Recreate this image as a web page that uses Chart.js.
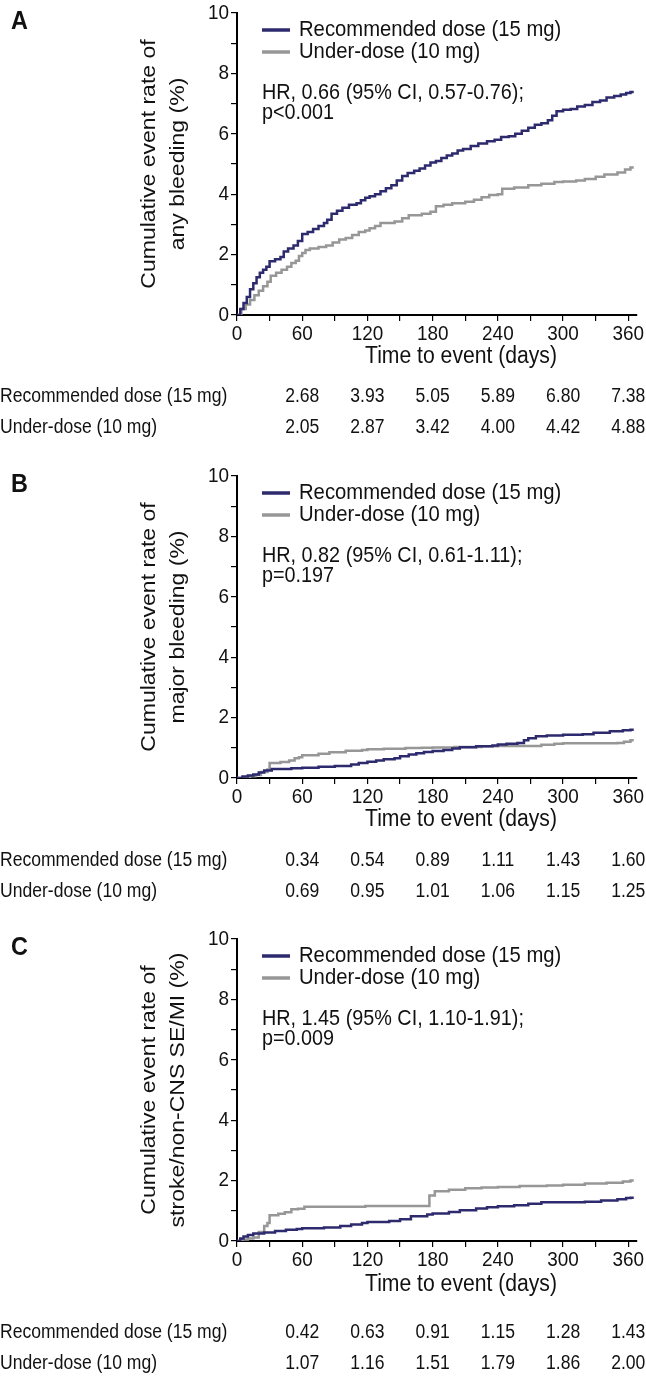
<!DOCTYPE html>
<html>
<head>
<meta charset="utf-8">
<script src="https://cdn.jsdelivr.net/npm/chart.js@4.4.1/dist/chart.umd.min.js"></script>
<style>
  body { margin: 0; background: #fff; width: 646px; height: 1377px; overflow: hidden; position: relative; }
  canvas { position: absolute; left: 0; }
</style>
</head>
<body>
<canvas id="panelA" width="646" height="463" style="top:0px"></canvas>
<canvas id="panelB" width="646" height="463" style="top:463px"></canvas>
<canvas id="panelC" width="646" height="463" style="top:926px"></canvas>
<script>
// series names
const seriesNames = ['Recommended dose (15 mg)', 'Under-dose (10 mg)'];
const tableDays = [60, 120, 180, 240, 300, 360];
const xTickDays = [0, 30, 60, 90, 120, 150, 180, 210, 240, 270, 300, 330, 360];

// A: any bleeding, [day, cumulative %]
const anyBleedRec = [[0,0],[3,0.2],[6,0.4],[9,0.6],[12,0.85],[15,1.05],[18,1.25],[21,1.4],[24,1.5],[27,1.6],[30,1.78],[35,1.85],[40,1.92],[43,2.1],[47,2.2],[52,2.3],[56,2.45],[60,2.68],[65,2.75],[70,2.85],[75,2.95],[80,3.05],[83,3.15],[87,3.35],[92,3.45],[97,3.55],[103,3.65],[110,3.7],[114,3.8],[118,3.88],[122,3.93],[127,4.0],[132,4.1],[137,4.2],[142,4.3],[147,4.45],[152,4.6],[157,4.7],[163,4.78],[168,4.85],[173,4.95],[178,5.05],[183,5.1],[188,5.2],[193,5.28],[198,5.35],[203,5.45],[208,5.5],[215,5.6],[222,5.68],[230,5.75],[237,5.8],[243,5.89],[250,5.92],[256,6.0],[262,6.1],[268,6.2],[274,6.3],[280,6.35],[286,6.45],[290,6.6],[294,6.75],[300,6.8],[307,6.82],[313,6.9],[320,6.95],[327,7.05],[334,7.1],[340,7.2],[347,7.25],[353,7.3],[358,7.35],[362,7.38],[365,7.38]];
const anyBleedUnder = [[0,0],[4,0.2],[8,0.35],[12,0.5],[16,0.65],[20,0.8],[24,0.95],[28,1.1],[31,1.3],[36,1.4],[41,1.5],[46,1.6],[50,1.72],[54,1.8],[57,1.95],[60,2.05],[63,2.15],[67,2.2],[75,2.25],[82,2.3],[88,2.4],[94,2.5],[100,2.55],[106,2.65],[112,2.75],[118,2.8],[122,2.87],[127,2.95],[132,3.05],[145,3.1],[152,3.2],[158,3.3],[170,3.35],[178,3.42],[183,3.6],[190,3.65],[198,3.7],[210,3.75],[218,3.82],[225,3.9],[232,3.97],[240,4.0],[244,4.18],[255,4.22],[268,4.3],[280,4.35],[292,4.4],[300,4.42],[312,4.45],[320,4.5],[330,4.58],[338,4.65],[350,4.72],[357,4.82],[362,4.88],[365,4.88]];
const anyBleedRecTable = [2.68, 3.93, 5.05, 5.89, 6.80, 7.38];
const anyBleedUnderTable = [2.05, 2.87, 3.42, 4.00, 4.42, 4.88];

// B: major bleeding
const majorBleedRec = [[0,0],[5,0.05],[10,0.08],[15,0.12],[20,0.18],[25,0.25],[32,0.3],[50,0.32],[60,0.34],[75,0.37],[90,0.4],[105,0.45],[112,0.5],[120,0.54],[128,0.58],[135,0.62],[145,0.65],[150,0.72],[158,0.78],[165,0.82],[172,0.86],[180,0.89],[190,0.93],[198,0.98],[205,1.02],[220,1.05],[235,1.08],[240,1.11],[248,1.13],[258,1.16],[264,1.25],[268,1.32],[275,1.38],[285,1.41],[300,1.43],[318,1.45],[328,1.5],[343,1.55],[355,1.58],[362,1.6],[365,1.6]];
const majorBleedUnder = [[0,0],[8,0.03],[12,0.06],[17,0.1],[22,0.2],[28,0.28],[30,0.5],[40,0.53],[48,0.58],[53,0.65],[57,0.69],[60,0.75],[75,0.8],[85,0.85],[100,0.9],[115,0.93],[120,0.95],[135,0.97],[155,0.99],[170,1.0],[180,1.01],[200,1.03],[225,1.05],[240,1.06],[265,1.06],[280,1.1],[292,1.13],[300,1.15],[350,1.16],[356,1.2],[362,1.25],[365,1.25]];
const majorBleedRecTable = [0.34, 0.54, 0.89, 1.11, 1.43, 1.60];
const majorBleedUnderTable = [0.69, 0.95, 1.01, 1.06, 1.15, 1.25];

// C: stroke/non-CNS SE/MI
const strokeRec = [[0,0],[3,0.08],[6,0.15],[10,0.2],[15,0.25],[25,0.28],[35,0.33],[45,0.37],[55,0.4],[60,0.42],[80,0.45],[95,0.5],[105,0.55],[115,0.6],[120,0.63],[140,0.66],[150,0.72],[160,0.82],[175,0.88],[180,0.91],[195,0.96],[205,1.02],[220,1.08],[230,1.12],[240,1.15],[255,1.18],[268,1.23],[280,1.28],[300,1.28],[320,1.3],[335,1.34],[350,1.38],[358,1.42],[362,1.43],[365,1.43]];
const strokeUnder = [[0,0],[5,0.05],[10,0.08],[15,0.12],[20,0.3],[25,0.5],[28,0.6],[30,0.85],[38,0.9],[44,0.95],[50,1.05],[56,1.07],[62,1.13],[118,1.16],[177,1.51],[182,1.65],[195,1.7],[210,1.75],[225,1.77],[240,1.79],[260,1.82],[285,1.84],[300,1.86],[320,1.9],[340,1.93],[355,1.97],[362,2.0],[365,2.0]];
const strokeRecTable = [0.42, 0.63, 0.91, 1.15, 1.28, 1.43];
const strokeUnderTable = [1.07, 1.16, 1.51, 1.79, 1.86, 2.00];

const NAVY = '#2d2a6e';
const GRAY = '#979797';
const FONT = '"Liberation Sans", Arial, sans-serif';
const SQUEEZE = 0.9; // the source figure is narrowed a bit

// text narrowed horizontally like the source
function narrowText(ctx, text, x, y, align) {
  ctx.save();
  ctx.translate(x, y);
  ctx.scale(SQUEEZE, 1);
  ctx.textAlign = align;
  ctx.fillText(text, 0, 0);
  ctx.restore();
}

// draws tick labels, panel letter, axis titles, legend, HR note and the table
const panelText = {
  id: 'panelText',
  afterDraw(chart, args, o) {
    const { ctx, chartArea: a, scales: { x, y } } = chart;
    ctx.save();
    ctx.fillStyle = '#111';
    ctx.textBaseline = 'middle';

    ctx.font = '21px ' + FONT;
    y.ticks.forEach(t => {
      if (t.value % 2 === 0) narrowText(ctx, String(t.value), 229, y.getPixelForValue(t.value), 'right');
    });
    x.ticks.forEach(t => {
      if (t.value % 60 === 0) narrowText(ctx, String(t.value), x.getPixelForValue(t.value), a.bottom + 19, 'center');
    });

    ctx.font = 'bold 26px ' + FONT;
    narrowText(ctx, o.letter, 11, 22, 'left');

    // y title, rotated (the narrowing is across the text there)
    ctx.font = '23px ' + FONT;
    ctx.textAlign = 'center';
    ctx.save();
    ctx.translate(0, (a.top + a.bottom) / 2);
    ctx.rotate(-Math.PI / 2);
    ctx.scale(1, SQUEEZE);
    o.yTitle.forEach((t, i) => ctx.fillText(t, 0, (149 + i * 29) / SQUEEZE));
    ctx.restore();

    ctx.font = '23.5px ' + FONT;
    narrowText(ctx, 'Time to event (days)', 461, a.bottom + o.titleOffset, 'center');

    // legend
    ctx.font = '22.5px ' + FONT;
    chart.data.datasets.forEach((d, i) => {
      const ly = a.top + 17 + i * 22;
      ctx.strokeStyle = d.borderColor;
      ctx.lineWidth = 3.5;
      ctx.beginPath();
      ctx.moveTo(262, ly);
      ctx.lineTo(290, ly);
      ctx.stroke();
      narrowText(ctx, d.label, 299, ly, 'left');
    });
    ctx.font = '22px ' + FONT;
    o.hr.forEach((t, i) => narrowText(ctx, t, 262, a.top + 80 + i * 20, 'left'));

    // table
    ctx.font = '19.5px ' + FONT;
    o.rows.forEach((r, i) => {
      const ty = o.tableY + i * 31;
      narrowText(ctx, r.label, 0, ty, 'left');
      r.values.forEach((v, j) => narrowText(ctx, v.toFixed(2), x.getPixelForValue(tableDays[j]), ty, 'center'));
    });
    ctx.restore();
  }
};

function makePanel(id, letter, yTitle, hr, rec, under, recTable, underTable, tableY, titleOffset) {
  const toXY = pts => pts.map(p => ({ x: p[0], y: p[1] }));
  new Chart(document.getElementById(id), {
    type: 'line',
    data: {
      datasets: [
        { label: seriesNames[0], data: toXY(rec), borderColor: NAVY, borderWidth: 2.5, pointRadius: 0, stepped: true, fill: false },
        { label: seriesNames[1], data: toXY(under), borderColor: GRAY, borderWidth: 2.5, pointRadius: 0, stepped: true, fill: false }
      ]
    },
    options: {
      responsive: false,
      animation: false,
      devicePixelRatio: 1,
      layout: { padding: { left: 0, top: 13, right: 9, bottom: 0 } },
      scales: {
        x: {
          type: 'linear',
          min: 0,
          max: 368,
          border: { color: '#000', width: 2 },
          grid: { drawOnChartArea: false, drawTicks: true, tickLength: 6, color: '#000', lineWidth: 1.2 },
          ticks: { display: false, autoSkip: false },
          afterBuildTicks: s => { s.ticks = xTickDays.map(v => ({ value: v })); },
          afterFit: s => { s.height = 148; s.paddingLeft = 0; s.paddingRight = 0; }
        },
        y: {
          min: 0,
          max: 10,
          border: { color: '#000', width: 2 },
          grid: { drawOnChartArea: false, drawTicks: true, tickLength: 6, color: '#000', lineWidth: 1.2 },
          ticks: { display: false, stepSize: 1, autoSkip: false },
          afterFit: s => { s.width = 237; s.paddingTop = 0; s.paddingBottom = 0; }
        }
      },
      plugins: {
        legend: { display: false },
        tooltip: { enabled: false },
        panelText: {
          letter: letter,
          yTitle: yTitle,
          hr: hr,
          tableY: tableY,
          titleOffset: titleOffset,
          rows: [
            { label: seriesNames[0], values: recTable },
            { label: seriesNames[1], values: underTable }
          ]
        }
      }
    },
    plugins: [panelText]
  });
}

makePanel('panelA', 'A', ['Cumulative event rate of', 'any bleeding (%)'],
  ['HR, 0.66 (95% CI, 0.57-0.76);', 'p<0.001'],
  anyBleedRec, anyBleedUnder, anyBleedRecTable, anyBleedUnderTable, 397, 42);
makePanel('panelB', 'B', ['Cumulative event rate of', 'major bleeding (%)'],
  ['HR, 0.82 (95% CI, 0.61-1.11);', 'p=0.197'],
  majorBleedRec, majorBleedUnder, majorBleedRecTable, majorBleedUnderTable, 398, 42);
makePanel('panelC', 'C', ['Cumulative event rate of', 'stroke/non-CNS SE/MI (%)'],
  ['HR, 1.45 (95% CI, 1.10-1.91);', 'p=0.009'],
  strokeRec, strokeUnder, strokeRecTable, strokeUnderTable, 407, 44);
</script>
</body>
</html>
